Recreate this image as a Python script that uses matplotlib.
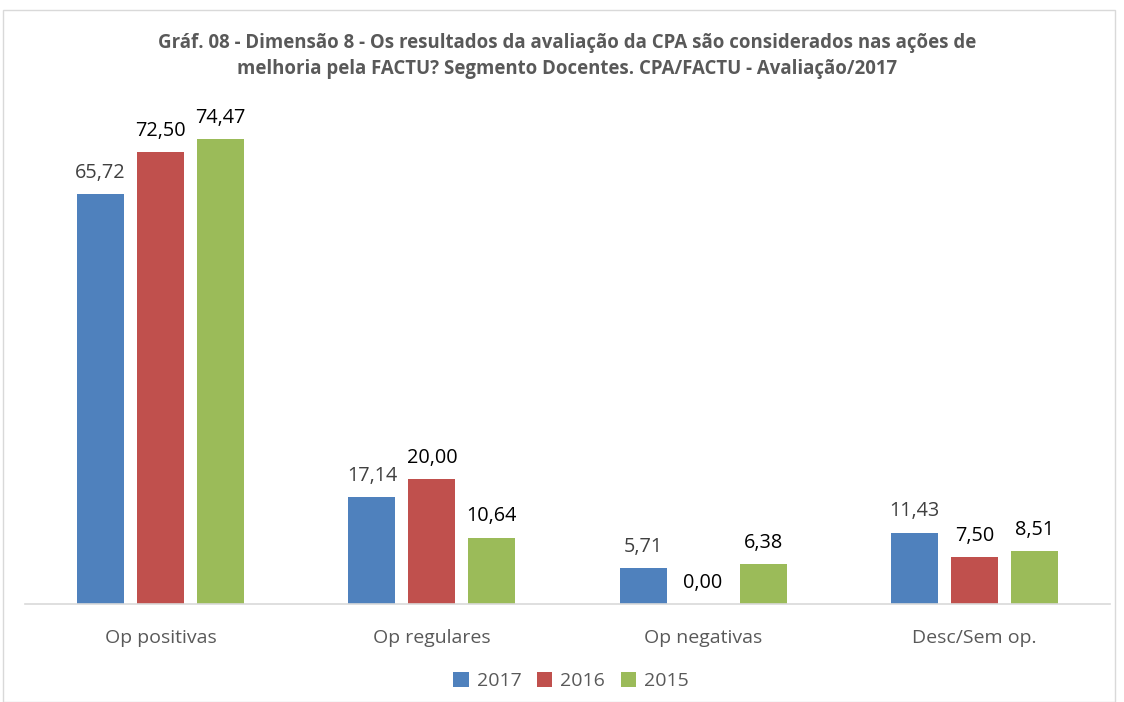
import numpy as np
import matplotlib.pyplot as plt
from matplotlib.patches import Rectangle

# data
categories = ["Op positivas", "Op regulares", "Op negativas", "Desc/Sem op."]
anos = ["2017", "2016", "2015"]
v2017 = [65.72, 17.14, 5.71, 11.43]
v2016 = [72.50, 20.00, 0.00, 7.50]
v2015 = [74.47, 10.64, 6.38, 8.51]

cores = ["#4F81BD", "#C0504D", "#9BBB59"]
cor_label = ["#404040", "black", "black"]

plt.rcParams['font.family'] = ['Open Sans', 'DejaVu Sans']

fig = plt.figure(figsize=(11.24, 7.02), dpi=100)
ax = fig.add_axes([25/1124, 1 - 604/702, 1085/1124, (604 - 105)/702])

x = np.arange(len(categories))
largura = 0.173
passo = 0.221
series = [v2017, v2016, v2015]
for i, vals in enumerate(series):
    pos = x + (i - 1) * passo
    barras = ax.bar(pos, vals, largura, color=cores[i], label=anos[i], zorder=2)
    for b, v in zip(barras, vals):
        ax.text(b.get_x() + b.get_width() / 2, v + 1.8, f"{v:.2f}".replace(".", ","),
                ha="center", va="bottom", fontsize=14.3, color=cor_label[i])

ax.set_xlim(-0.5, 3.5)
ax.set_ylim(0, 80)
ax.set_yticks([])
ax.set_xticks(x)
ax.set_xticklabels(categories, fontsize=14, color="#595959")
ax.tick_params(axis="x", length=0, pad=18)
for s in ["top", "right", "left"]:
    ax.spines[s].set_visible(False)
ax.spines["bottom"].set_color("#D9D9D9")
ax.spines["bottom"].set_linewidth(1.2)

fig.text(567/1124, 1 - 56/702,
         "Gráf. 08 - Dimensão 8 - Os resultados da avaliação da CPA são considerados nas ações de\n"
         "melhoria pela FACTU? Segmento Docentes. CPA/FACTU - Avaliação/2017",
         ha="center", va="center", fontsize=13.4, fontweight="bold", color="#595959",
         linespacing=1.45)

leg = fig.legend(loc="center", bbox_to_anchor=(571/1124, 1 - 681/702), ncol=3,
                 frameon=False, fontsize=14, handlelength=0.8, handleheight=0.8,
                 columnspacing=0.8, handletextpad=0.4)
for t in leg.get_texts():
    t.set_color("#595959")

# moldura
fig.patches.append(Rectangle((3/1124, 0), 1112/1124, 1 - 10/702, transform=fig.transFigure,
                             fill=False, edgecolor="#D9D9D9", linewidth=1))

fig.savefig("out.png", dpi=100)
